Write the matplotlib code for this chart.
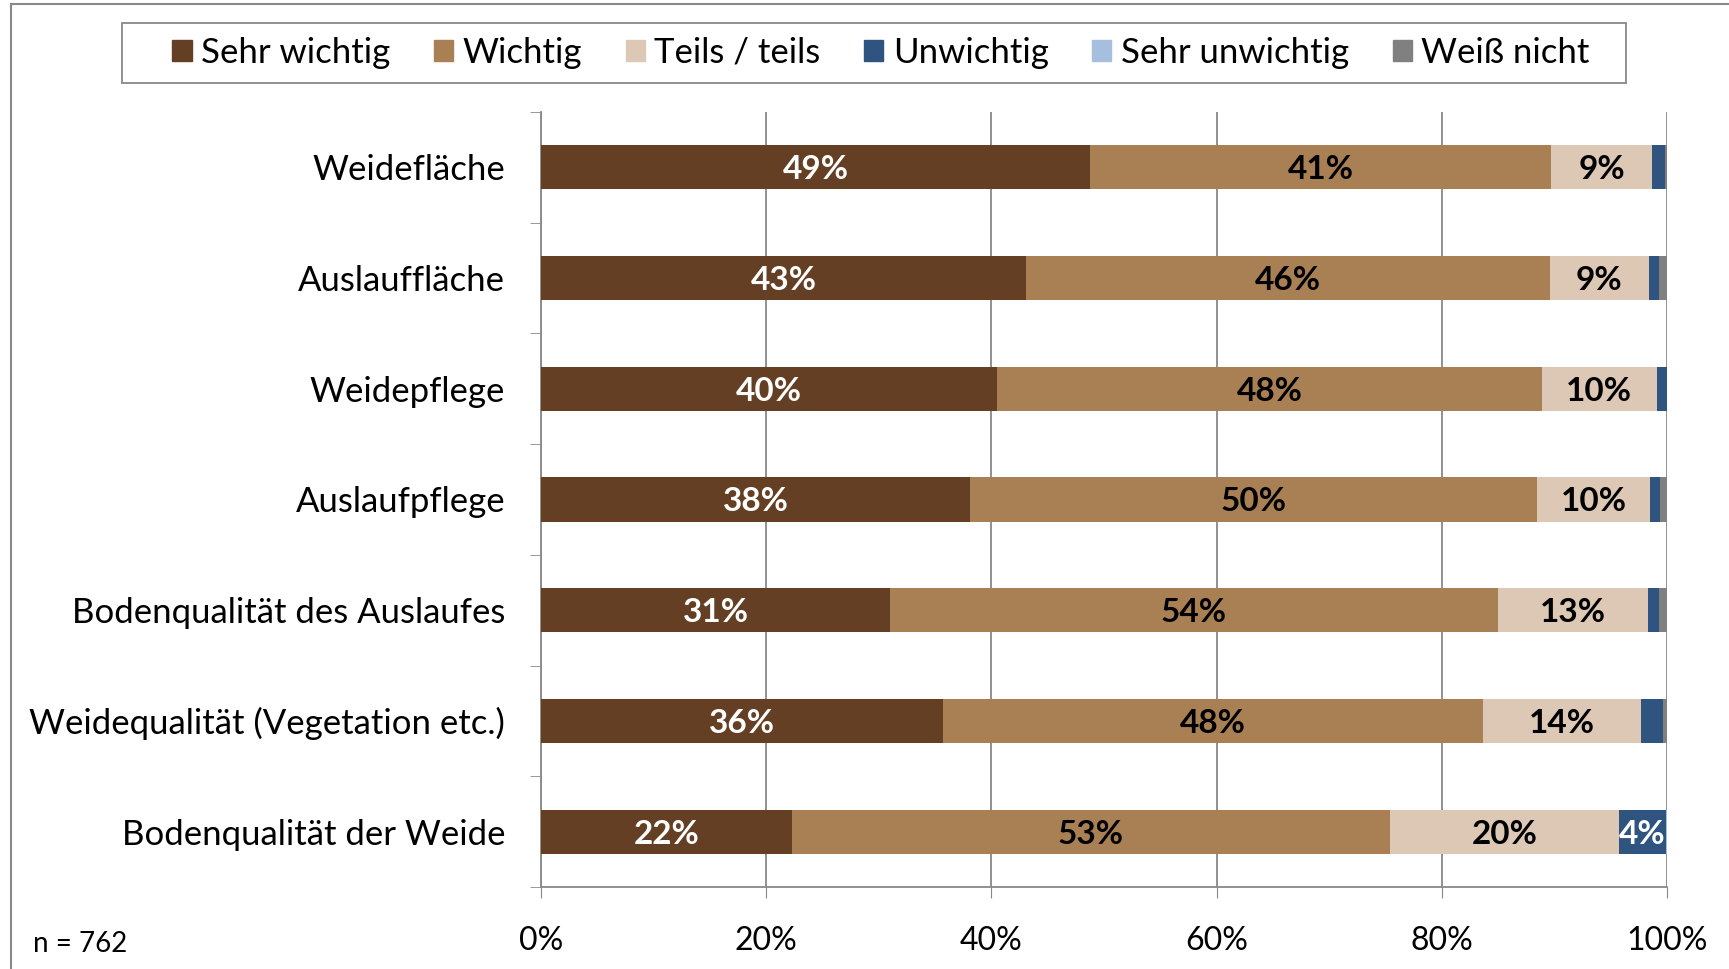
import matplotlib.pyplot as plt
import matplotlib.patches as mpatches
from matplotlib.lines import Line2D
import numpy as np

plt.rcParams['font.family'] = ['Lato', 'DejaVu Sans']

# Kategorien (von oben nach unten)
kategorien = ["Weidefläche", "Auslauffläche", "Weidepflege", "Auslaufpflege",
              "Bodenqualität des Auslaufes", "Weidequalität (Vegetation etc.)",
              "Bodenqualität der Weide"]

# Anteile in %
sehr_wichtig = [48.8, 43.1, 40.5, 38.1, 31.0, 35.7, 22.3]
wichtig = [40.9, 46.5, 48.4, 50.4, 54.0, 48.0, 53.1]
teils = [9.0, 8.8, 10.2, 10.0, 13.3, 14.0, 20.4]
unwichtig = [1.1, 0.9, 0.9, 0.9, 1.0, 2.0, 4.1]
sehr_unwichtig = [0.0, 0.0, 0.0, 0.0, 0.0, 0.0, 0.1]
weiss_nicht = [0.2, 0.7, 0.0, 0.6, 0.7, 0.3, 0.0]

serien = ["Sehr wichtig", "Wichtig", "Teils / teils", "Unwichtig", "Sehr unwichtig", "Weiß nicht"]
farben = ["#643F24", "#A97F54", "#DCC8B4", "#2F5480", "#A7BFDE", "#808080"]
textfarben = ["white", "black", "black", "white", "black", "black"]

werte = [sehr_wichtig, wichtig, teils, unwichtig, sehr_unwichtig, weiss_nicht]

fig = plt.figure(figsize=(17.29, 9.69), dpi=100)
ax = fig.add_axes([0.313, 0.0846, 0.651, 0.80])

y = np.arange(len(kategorien))
links = np.zeros(len(kategorien))
for name, vals, farbe, tf in zip(serien, werte, farben, textfarben):
    vals = np.array(vals)
    ax.barh(y, vals, left=links, height=0.4, color=farbe, label=name, zorder=3)
    for yi, (l, v) in enumerate(zip(links, vals)):
        if v >= 3:
            ax.text(l + v / 2, yi, f"{v:.0f}%", ha="center", va="center_baseline",
                    color=tf, fontsize=24, fontweight="bold", zorder=4)
    links += vals

ax.set_xlim(0, 100)
ax.set_ylim(len(kategorien) - 0.5, -0.5)
ax.set_yticks(y)
ax.set_yticklabels(kategorien, fontsize=25)
ax.set_yticks(np.arange(-0.5, len(kategorien)), minor=True)
ax.tick_params(axis="y", which="major", length=0, pad=26)
ax.tick_params(axis="y", which="minor", length=8, color="#888888", direction="out")
ax.set_xticks(np.arange(0, 101, 20))
ax.set_xticklabels([f"{v}%" for v in range(0, 101, 20)], fontsize=23)
ax.tick_params(axis="x", length=8, color="#888888", direction="out", pad=20)
ax.grid(axis="x", color="#888888", linewidth=1.3, zorder=0)

for s in ["top", "right"]:
    ax.spines[s].set_visible(False)
for s in ["left", "bottom"]:
    ax.spines[s].set_color("#888888")
    ax.spines[s].set_linewidth(1.3)

# Legende ohne eigenen Rahmen, Rahmen separat
handles = [mpatches.Patch(color=c) for c in farben]
leg = fig.legend(handles, serien, loc="center", bbox_to_anchor=(0.5096, 0.9454),
                 ncol=6, fontsize=25, frameon=False,
                 handlelength=0.55, handleheight=0.55, handletextpad=0.28,
                 columnspacing=1.25, borderpad=0, borderaxespad=0)
fig.add_artist(mpatches.Rectangle((0.0708, 0.9147), 0.8699, 0.0613, transform=fig.transFigure,
                                  fill=False, edgecolor="#888888", linewidth=1.3))

fig.text(0.019, 0.018, "n = 762", fontsize=20)

# Rahmen links und oben
fig.add_artist(Line2D([0.0064, 0.0064], [0, 0.996], color="#888888", lw=1.5))
fig.add_artist(Line2D([0.0064, 1], [0.996, 0.996], color="#888888", lw=1.5))

fig.savefig("out.png", dpi=100)
